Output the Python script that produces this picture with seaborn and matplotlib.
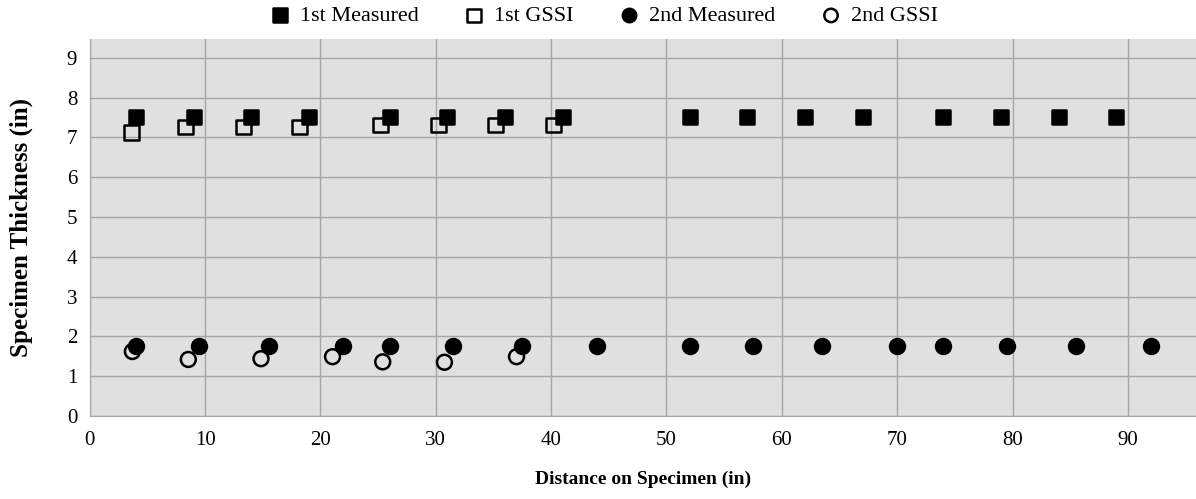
import numpy as np
import pandas as pd
import matplotlib
matplotlib.use("Agg")
import matplotlib.pyplot as plt
import seaborn as sns

# ── Data ────────────────────────────────────────────────────
first_meas_x = [4, 9, 14, 19, 26, 31, 36, 41, 52, 57, 62, 67, 74, 79, 84, 89]
first_meas_y = [7.5] * 16

first_gssi_x = [3.6, 8.3, 13.3, 18.2, 25.2, 30.2, 35.2, 40.2]
first_gssi_y = [7.12, 7.26, 7.26, 7.26, 7.31, 7.31, 7.31, 7.31]

second_meas_x = [4, 9.5, 15.5, 22, 26, 31.5, 37.5, 44, 52, 57.5, 63.5, 70, 74, 79.5, 85.5, 92]
second_meas_y = [1.75] * 16

second_gssi_x = [3.7, 8.55, 14.85, 21.05, 25.4, 30.75, 37.0]
second_gssi_y = [1.62, 1.42, 1.44, 1.49, 1.36, 1.35, 1.49]

x_ticks = [0, 10, 20, 30, 40, 50, 60, 70, 80, 90]
y_ticks = [0, 1, 2, 3, 4, 5, 6, 7, 8, 9]

# ── Style ───────────────────────────────────────────────────
sns.set_style("whitegrid")
plt.rcParams["font.family"] = ["Liberation Serif", "DejaVu Serif"]
plt.rcParams["text.color"] = "black"
plt.rcParams["xtick.color"] = "black"
plt.rcParams["ytick.color"] = "black"
plt.rcParams["axes.labelcolor"] = "black"

fig = plt.figure(figsize=(11.96, 4.99), dpi=100)
ax = fig.add_axes([89.7 / 1196, 1 - 416 / 499, (1196 - 89.7) / 1196, (416 - 39) / 499])
ax.set_facecolor("#e0e0e0")

series = [
    (first_meas_x, first_meas_y, "s", "black", "1st Measured"),
    (first_gssi_x, first_gssi_y, "s", "none", "1st GSSI"),
    (second_meas_x, second_meas_y, "o", "black", "2nd Measured"),
    (second_gssi_x, second_gssi_y, "o", "none", "2nd GSSI"),
]
order = [1, 0, 3, 2]  # GSSI drawn under measured
for i in order:
    xs, ys, mk, fc, lab = series[i]
    df = pd.DataFrame({"x": xs, "y": ys})
    sns.scatterplot(data=df, x="x", y="y", marker=mk, s=115,
                    facecolor=fc, edgecolor="black", linewidth=1.8,
                    ax=ax, label=lab, zorder=3 + (i % 2 == 0))

ax.set_xlim(0, 95.9)
ax.set_ylim(0, 9.47)
ax.set_xticks(x_ticks)
ax.set_yticks(y_ticks)
ax.grid(True, color="#a6a6a6", linewidth=1.0)
for s in ax.spines.values():
    s.set_visible(False)
ax.spines["left"].set_visible(True)
ax.spines["left"].set_color("#a6a6a6")
ax.spines["bottom"].set_visible(True)
ax.spines["bottom"].set_color("#a6a6a6")
ax.tick_params(axis="both", labelsize=15, length=0, pad=9)
ax.tick_params(axis="x", pad=11)

ax.set_xlabel("Distance on Specimen (in)", fontsize=14, fontweight="bold", labelpad=15)
ax.set_ylabel("Specimen Thickness (in)", fontsize=18, fontweight="bold", labelpad=24)

handles, labels = ax.get_legend_handles_labels()
lab_order = ["1st Measured", "1st GSSI", "2nd Measured", "2nd GSSI"]
hmap = dict(zip(labels, handles))
ax.legend_.remove()
fig.legend([hmap[l] for l in lab_order], lab_order, loc="center",
           bbox_to_anchor=(0.5045, 1 - 16 / 499), ncol=4, frameon=False,
           fontsize=16, handlelength=1.0, handletextpad=0.4,
           columnspacing=2.0, markerscale=0.9)

fig.savefig("out.png", dpi=100)
